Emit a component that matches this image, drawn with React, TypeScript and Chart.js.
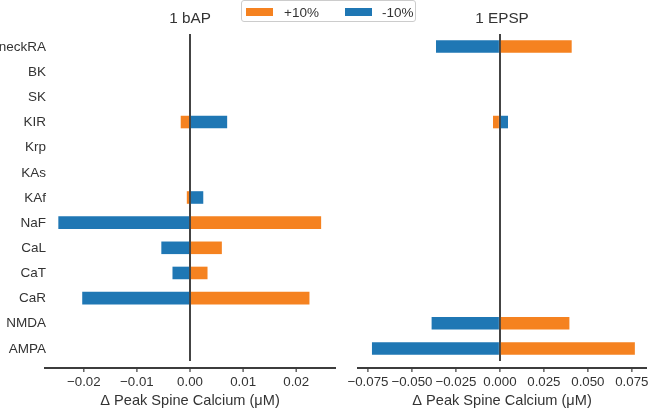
import React, { useEffect, useRef } from "react";
import { Chart, registerables } from "chart.js";

Chart.register(...registerables);

const categories = ["neckRA", "BK", "SK", "KIR", "Krp", "KAs", "KAf", "NaF", "CaL", "CaT", "CaR", "NMDA", "AMPA"];
const bapPlus10 = [0, 0, 0, -0.00175, 0, 0, -0.0006, 0.0247, 0.006, 0.0033, 0.0225, 0, 0];
const bapMinus10 = [0, 0, 0, 0.0070, 0, 0, 0.0025, -0.0248, -0.0054, -0.0033, -0.0203, 0, 0];
const epspPlus10 = [0.0408, 0, 0, -0.0039, 0, 0, 0, 0, 0, 0, 0, 0.0395, 0.0767];
const epspMinus10 = [-0.0363, 0, 0, 0.0046, 0, 0, 0, 0, 0, 0, 0, -0.0388, -0.0727];
const seriesLabels = ["+10%", "-10%"];
const titles = ["1 bAP", "1 EPSP"];
const xTitle = "\u0394 Peak Spine Calcium (\u03bcM)";

const ORANGE = "#f58220";
const BLUE = "#1f77b4";
const TEXT = "#333333";
const AXIS = "#3c3c3c";
const FONT = "'Liberation Sans', Arial, sans-serif";

const offsetAxisPlugin = {
  id: "offsetAxis",
  afterDraw(chart: any, _args: any, opts: any) {
    const { ctx, chartArea } = chart;
    const xs = chart.scales.x;
    const ys = chart.scales.y;
    const y = chartArea.bottom + 7;
    ctx.save();
    ctx.strokeStyle = AXIS;
    ctx.lineWidth = 1.8;
    ctx.beginPath();
    ctx.moveTo(chartArea.left, y);
    ctx.lineTo(chartArea.right, y);
    ctx.stroke();
    ctx.lineWidth = 1.2;
    xs.ticks.forEach((t: any) => {
      const px = xs.getPixelForValue(t.value);
      ctx.beginPath();
      ctx.moveTo(px, y);
      ctx.lineTo(px, y + 4);
      ctx.stroke();
    });
    ctx.fillStyle = TEXT;
    ctx.font = `15.3px ${FONT}`;
    ctx.textAlign = "center";
    ctx.textBaseline = "middle";
    ctx.fillText(opts.title, (chartArea.left + chartArea.right) / 2, 19);
    if (opts.showY) {
      ctx.font = `13.5px ${FONT}`;
      ctx.textAlign = "right";
      const labels = chart.data.labels as string[];
      labels.forEach((lab: string, i: number) => {
        ctx.fillText(lab, chartArea.left + 2, ys.getPixelForValue(i) + 0.5);
      });
    }
    ctx.restore();
  },
};

function fmt(v: number, digits: number) {
  if (Math.abs(v) < 1e-9) v = 0;
  return v.toFixed(digits).replace("-", "\u2212");
}

function makeConfig(
  plus: number[],
  minus: number[],
  title: string,
  min: number,
  max: number,
  step: number,
  digits: number,
  showY: boolean,
  padding: any,
  yWidth: number
): any {
  return {
    type: "bar",
    data: {
      labels: categories,
      datasets: [
        { label: seriesLabels[0], data: plus, backgroundColor: ORANGE, grouped: false, barPercentage: 0.5, categoryPercentage: 1 },
        { label: seriesLabels[1], data: minus, backgroundColor: BLUE, grouped: false, barPercentage: 0.5, categoryPercentage: 1 },
      ],
    },
    options: {
      indexAxis: "y",
      animation: false,
      responsive: false,
      maintainAspectRatio: false,
      layout: { padding },
      plugins: {
        legend: { display: false },
        tooltip: { enabled: false },
        title: { display: false },
        offsetAxis: { title, showY },
      },
      scales: {
        x: {
          type: "linear",
          min,
          max,
          border: { display: false },
          grid: {
            drawTicks: false,
            color: (c: any) => (c.tick && Math.abs(c.tick.value) < 1e-9 ? "#444444" : "rgba(0,0,0,0)"),
            lineWidth: 2,
          },
          ticks: {
            stepSize: step,
            includeBounds: false,
            padding: 13,
            color: TEXT,
            font: { family: FONT, size: 13.3 },
            maxRotation: 0,
            autoSkip: false,
            callback: (v: any) => fmt(Number(v), digits),
          },
          title: {
            display: true,
            text: xTitle,
            color: TEXT,
            font: { family: FONT, size: 14.6 },
            padding: { top: 0, bottom: 3.5 },
          },
          afterFit: (s: any) => {
            s.height = 52;
          },
        },
        y: {
          display: showY,
          border: { display: false },
          grid: { display: false, drawTicks: false },
          ticks: { display: false },
          afterFit: (s: any) => {
            s.width = yWidth;
          },
        },
      },
    },
    plugins: [offsetAxisPlugin],
  };
}

export default function App() {
  const leftRef = useRef<HTMLCanvasElement>(null);
  const rightRef = useRef<HTMLCanvasElement>(null);

  useEffect(() => {
    const c1 = new Chart(
      leftRef.current as HTMLCanvasElement,
      makeConfig(bapPlus10, bapMinus10, titles[0], -0.0275, 0.0275, 0.01, 2, true, { top: 34, right: 9, left: 0, bottom: 0 }, 44)
    );
    const c2 = new Chart(
      rightRef.current as HTMLCanvasElement,
      makeConfig(epspPlus10, epspMinus10, titles[1], -0.0812, 0.0836, 0.025, 3, false, { top: 34, right: 23, left: 37, bottom: 0 }, 0)
    );
    return () => {
      c1.destroy();
      c2.destroy();
    };
  }, []);

  const legendText: React.CSSProperties = {
    position: "absolute",
    top: 3,
    fontFamily: FONT,
    fontSize: 13.5,
    color: TEXT,
    lineHeight: "17px",
  };

  return (
    <div style={{ position: "fixed", left: 0, top: 0, width: 650, height: 413, background: "#fff", overflow: "hidden" }}>
      <canvas ref={rightRef} width={350} height={413} style={{ position: "absolute", left: 320, top: 0, width: 350, height: 413 }} />
      <canvas ref={leftRef} width={345} height={413} style={{ position: "absolute", left: 0, top: 0, width: 345, height: 413 }} />
      <div
        style={{
          position: "absolute",
          left: 241,
          top: 0,
          width: 175,
          height: 22,
          border: "1px solid #cccccc",
          borderRadius: 3,
          background: "rgba(255,255,255,0.8)",
          boxSizing: "border-box",
        }}
      >
        <div style={{ position: "absolute", left: 4, top: 7, width: 27, height: 8, background: ORANGE }} />
        <div style={{ ...legendText, left: 42 }}>{seriesLabels[0]}</div>
        <div style={{ position: "absolute", left: 103, top: 7, width: 27, height: 8, background: BLUE }} />
        <div style={{ ...legendText, left: 140 }}>{seriesLabels[1]}</div>
      </div>
    </div>
  );
}
